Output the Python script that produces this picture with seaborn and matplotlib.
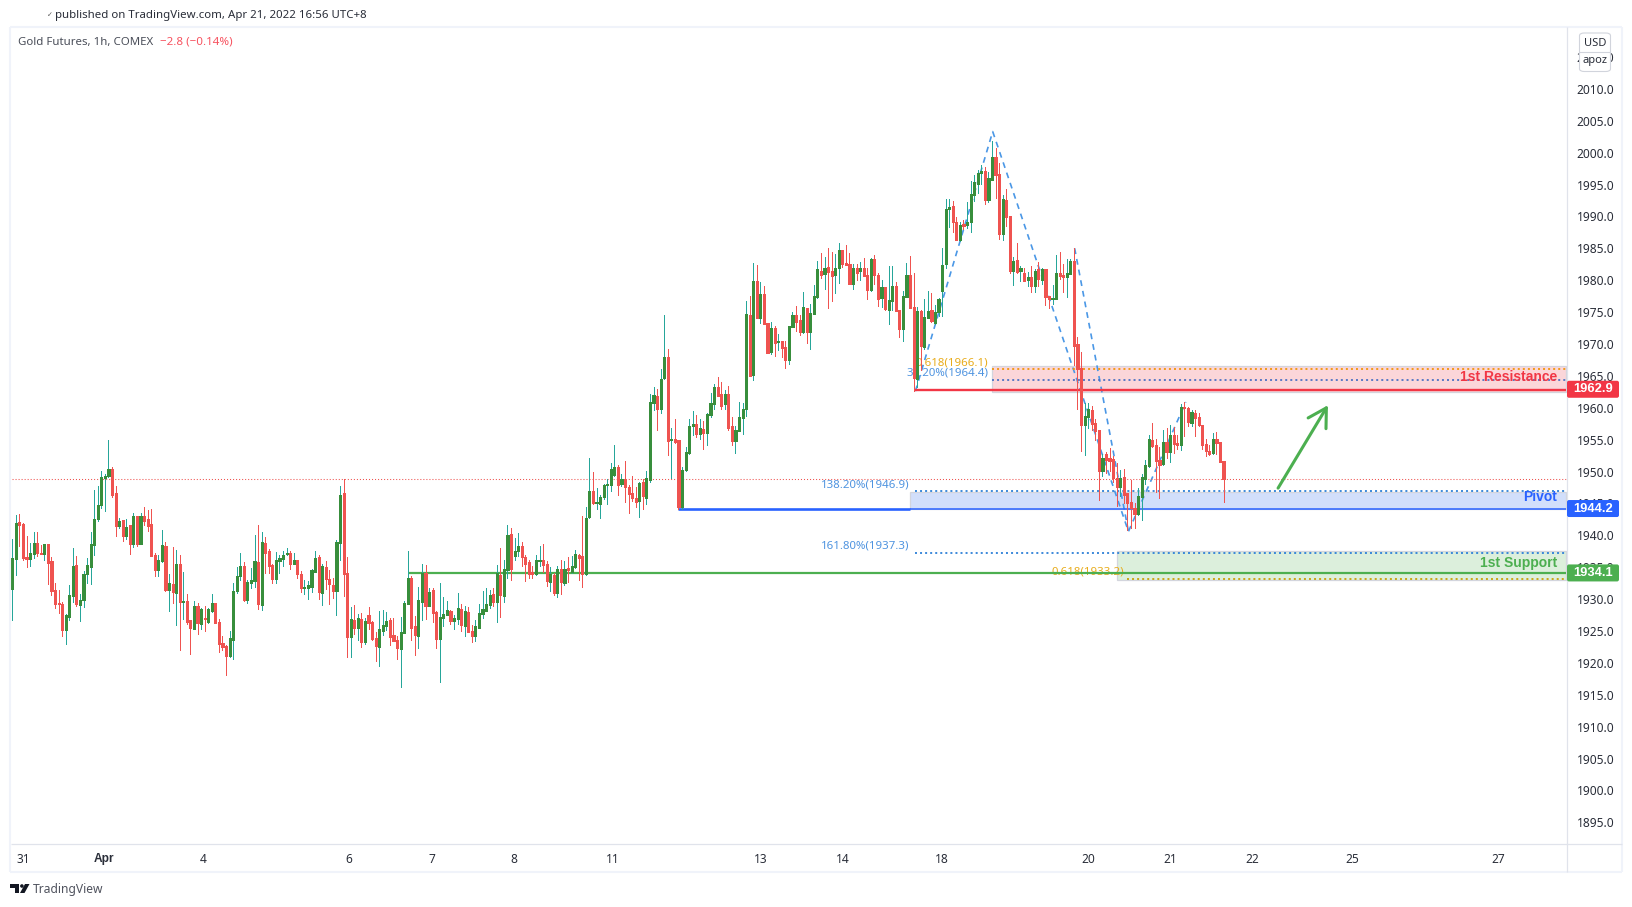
import matplotlib
matplotlib.use("Agg")
import matplotlib.pyplot as plt
from matplotlib.patches import Circle, FancyBboxPatch, Polygon, Rectangle
from matplotlib.lines import Line2D
from matplotlib.transforms import IdentityTransform
import numpy as np
import pandas as pd
import seaborn as sns

W, H = 1633, 907

opens = [
    1931.6, 1936.3, 1942.1, 1941.8, 1936.6, 1936.3, 1937.1, 1938.8, 1937.2, 1937.1,
    1938.6, 1936.0, 1931.4, 1929.4, 1929.2, 1925.1, 1927.2, 1930.5, 1935.3, 1929.0,
    1929.8, 1933.9, 1935.0, 1938.5, 1942.5, 1944.7, 1949.0, 1949.3, 1950.4, 1946.6,
    1941.4, 1942.4, 1939.9, 1941.6, 1938.6, 1943.0, 1938.6, 1943.0, 1942.5, 1941.8,
    1936.9, 1934.5, 1936.0, 1938.3, 1931.4, 1932.3, 1930.9, 1935.5, 1929.5, 1929.7,
    1926.7, 1925.3, 1928.9, 1926.1, 1927.0, 1926.4, 1928.1, 1929.4, 1926.4, 1923.1,
    1922.6, 1921.0, 1923.6, 1931.2, 1933.6, 1935.2, 1929.8, 1932.5, 1932.8, 1935.8,
    1929.0, 1938.8, 1937.5, 1935.3, 1933.1, 1936.0, 1936.3, 1937.1, 1937.2, 1935.5,
    1936.1, 1933.9, 1931.7, 1931.7, 1931.9, 1934.2, 1936.6, 1930.9, 1935.0, 1933.1,
    1932.2, 1931.2, 1938.8, 1946.6, 1934.1, 1924.0, 1926.7, 1925.4, 1926.9, 1923.2,
    1927.5, 1926.4, 1923.9, 1922.5, 1925.0, 1925.8, 1926.7, 1924.3, 1923.6, 1922.2,
    1924.7, 1929.2, 1933.3, 1925.8, 1924.2, 1929.5, 1934.1, 1928.9, 1931.4, 1928.0,
    1923.7, 1927.0, 1927.5, 1928.1, 1926.5, 1926.9, 1928.4, 1925.8, 1928.0, 1925.0,
    1924.2, 1925.4, 1927.6, 1928.1, 1929.0, 1930.8, 1929.5, 1933.8, 1930.5, 1934.5,
    1940.2, 1936.7, 1937.5, 1938.3, 1936.6, 1935.8, 1934.2, 1933.9, 1936.0, 1936.1,
    1935.5, 1932.7, 1933.8, 1930.9, 1934.7, 1932.5, 1934.9, 1934.2, 1935.0, 1936.9,
    1936.7, 1933.9, 1942.9, 1946.9, 1945.0, 1944.9, 1946.0, 1947.9, 1947.9, 1949.4,
    1950.7, 1948.0, 1948.8, 1947.6, 1946.6, 1945.8, 1945.4, 1948.3, 1945.8, 1948.7,
    1960.7, 1961.8, 1959.8, 1964.7, 1968.0, 1954.9, 1955.1, 1954.9, 1944.4, 1950.2,
    1952.9, 1957.1, 1957.4, 1955.9, 1956.6, 1956.0, 1958.9, 1960.6, 1963.2, 1962.1,
    1960.6, 1962.1, 1957.1, 1954.8, 1956.4, 1958.4, 1959.8, 1974.5, 1965.1, 1979.9,
    1974.1, 1977.8, 1973.3, 1968.7, 1972.5, 1970.3, 1970.5, 1969.5, 1967.5, 1972.7,
    1974.5, 1973.8, 1971.9, 1975.6, 1971.9, 1974.7, 1977.4, 1981.4, 1981.0, 1982.1,
    1981.4, 1980.8, 1981.9, 1984.7, 1982.7, 1982.5, 1979.4, 1981.9, 1981.4, 1981.9,
    1980.8, 1978.5, 1983.3, 1980.8, 1977.2, 1979.0, 1975.3, 1976.7, 1979.1, 1975.3,
    1972.4, 1977.4, 1980.8, 1975.8, 1964.5, 1975.2, 1969.5, 1974.1, 1975.3, 1973.3,
    1975.0, 1978.3, 1982.5, 1991.2, 1991.7, 1989.1, 1986.3, 1988.8, 1988.7, 1989.1,
    1993.4, 1995.1, 1996.8, 1997.1, 1992.6, 1995.7, 1999.3, 1996.7, 1987.3, 1992.6,
    1990.1, 1981.4, 1983.2, 1981.4, 1981.1, 1980.0, 1980.5, 1979.1, 1981.8, 1980.0,
    1981.8, 1977.5, 1977.0, 1977.0, 1981.1, 1980.8, 1980.5, 1981.0, 1983.0, 1970.0,
    1966.2, 1957.3, 1958.5, 1959.6, 1957.6, 1956.5, 1950.1, 1952.7, 1952.1, 1952.0,
    1949.0, 1947.6, 1949.1, 1946.6, 1945.2, 1944.3, 1943.3, 1946.0, 1948.8, 1950.9,
    1954.9, 1954.2, 1951.8, 1951.2, 1954.6, 1953.1, 1955.7, 1954.5, 1954.2, 1960.1,
    1960.0, 1957.6, 1959.2, 1958.5, 1957.3, 1954.3, 1953.2, 1952.9, 1955.1, 1954.6, 1951.6,
]
closes = [
    1936.4, 1941.9, 1941.6, 1936.4, 1936.3, 1937.2, 1938.8, 1937.2, 1937.1, 1938.6,
    1935.6, 1931.2, 1929.2, 1929.2, 1925.1, 1927.5, 1930.6, 1935.2, 1929.2, 1929.8,
    1933.9, 1935.3, 1938.6, 1942.5, 1944.7, 1949.1, 1949.3, 1950.4, 1946.3, 1941.4,
    1942.2, 1939.9, 1941.3, 1938.6, 1943.0, 1938.6, 1943.0, 1942.2, 1941.4, 1936.7,
    1934.5, 1936.1, 1938.5, 1931.4, 1932.5, 1931.1, 1935.5, 1929.5, 1929.7, 1926.4,
    1925.4, 1928.9, 1926.2, 1928.4, 1926.9, 1928.4, 1929.4, 1926.2, 1922.9, 1922.5,
    1921.0, 1923.9, 1931.2, 1933.6, 1935.2, 1929.8, 1932.7, 1933.0, 1936.0, 1929.2,
    1938.9, 1937.2, 1935.2, 1933.1, 1936.1, 1936.4, 1936.9, 1937.2, 1935.5, 1936.1,
    1933.9, 1931.7, 1931.9, 1932.2, 1934.5, 1936.4, 1931.1, 1935.2, 1933.1, 1932.3,
    1931.2, 1938.9, 1946.3, 1933.9, 1924.0, 1926.9, 1925.4, 1927.0, 1923.2, 1926.5,
    1926.2, 1923.7, 1922.6, 1925.3, 1925.9, 1926.5, 1924.0, 1923.4, 1922.3, 1924.8,
    1929.4, 1933.3, 1925.4, 1924.3, 1929.8, 1934.1, 1928.9, 1931.1, 1927.8, 1923.7,
    1927.2, 1927.6, 1928.3, 1926.5, 1927.0, 1928.6, 1925.9, 1928.1, 1924.8, 1924.2,
    1925.8, 1927.8, 1928.4, 1929.2, 1930.6, 1929.5, 1934.1, 1930.6, 1934.7, 1940.0,
    1934.7, 1937.5, 1938.3, 1936.6, 1935.5, 1933.9, 1933.9, 1936.1, 1936.1, 1935.3,
    1932.8, 1933.9, 1930.9, 1934.7, 1932.7, 1934.7, 1934.5, 1935.2, 1937.1, 1936.4,
    1933.9, 1942.7, 1946.9, 1945.0, 1945.2, 1946.0, 1947.9, 1948.0, 1950.4, 1950.7,
    1947.9, 1948.8, 1947.6, 1946.5, 1945.8, 1945.2, 1948.2, 1946.2, 1949.0, 1960.9,
    1962.0, 1959.8, 1964.5, 1968.0, 1954.8, 1955.1, 1954.6, 1944.4, 1950.2, 1953.0,
    1957.1, 1957.4, 1955.9, 1956.8, 1956.0, 1959.0, 1960.7, 1963.2, 1961.8, 1960.3,
    1962.1, 1956.8, 1954.8, 1956.5, 1958.5, 1959.8, 1974.7, 1965.0, 1979.9, 1974.1,
    1977.8, 1973.1, 1968.6, 1972.5, 1970.2, 1970.5, 1969.4, 1967.5, 1972.8, 1974.5,
    1973.4, 1971.9, 1975.8, 1971.9, 1974.9, 1977.5, 1981.8, 1980.8, 1981.9, 1981.3,
    1980.7, 1981.9, 1984.7, 1982.5, 1982.4, 1979.4, 1981.9, 1981.1, 1981.9, 1980.7,
    1978.5, 1983.3, 1980.8, 1977.1, 1979.0, 1975.5, 1976.9, 1979.1, 1975.2, 1972.4,
    1977.5, 1980.8, 1975.6, 1964.7, 1975.2, 1969.7, 1974.2, 1975.2, 1973.6, 1975.0,
    1977.1, 1982.4, 1991.2, 1991.5, 1989.1, 1986.3, 1988.7, 1988.5, 1989.1, 1993.5,
    1995.4, 1996.8, 1997.1, 1992.6, 1996.0, 1999.3, 1996.5, 1987.3, 1992.7, 1989.9,
    1981.4, 1983.0, 1981.3, 1981.9, 1979.9, 1980.5, 1979.1, 1981.4, 1980.2, 1981.8,
    1977.4, 1977.0, 1977.2, 1981.1, 1980.7, 1980.5, 1981.1, 1983.0, 1969.7, 1966.1,
    1957.3, 1958.7, 1959.8, 1957.4, 1956.4, 1950.1, 1952.1, 1951.8, 1951.6, 1949.0,
    1947.6, 1949.0, 1946.3, 1945.0, 1944.3, 1943.3, 1946.2, 1949.1, 1951.0, 1955.1,
    1954.0, 1951.6, 1951.0, 1954.6, 1953.1, 1955.7, 1954.3, 1954.2, 1960.1, 1960.0,
    1957.8, 1959.3, 1958.4, 1957.3, 1954.2, 1953.2, 1952.7, 1955.1, 1954.5, 1951.5, 1948.8,
]
highs = [
    1939.4, 1943.2, 1943.3, 1941.9, 1939.9, 1938.8, 1940.5, 1940.5, 1938.5, 1938.6,
    1938.6, 1936.6, 1932.5, 1931.4, 1929.6, 1927.6, 1932.2, 1938.0, 1936.7, 1930.8,
    1934.4, 1936.4, 1940.5, 1947.1, 1947.7, 1950.1, 1949.6, 1955.0, 1950.7, 1947.7,
    1942.7, 1942.4, 1942.5, 1941.6, 1943.5, 1943.0, 1943.5, 1944.4, 1944.0, 1944.1,
    1937.2, 1936.9, 1940.8, 1938.9, 1933.9, 1938.2, 1937.7, 1936.9, 1934.2, 1930.8,
    1926.7, 1929.7, 1929.4, 1928.6, 1928.9, 1928.6, 1930.8, 1929.4, 1926.9, 1924.2,
    1922.8, 1925.0, 1932.5, 1935.0, 1937.2, 1935.8, 1933.0, 1934.9, 1940.0, 1941.6,
    1940.5, 1939.7, 1937.8, 1935.5, 1937.4, 1936.9, 1937.5, 1938.0, 1937.5, 1937.2,
    1936.1, 1934.4, 1933.0, 1932.8, 1934.7, 1937.5, 1936.9, 1935.5, 1936.0, 1934.5,
    1933.3, 1939.2, 1947.7, 1948.8, 1936.6, 1928.7, 1929.0, 1927.6, 1927.8, 1927.0,
    1928.7, 1926.5, 1924.8, 1928.1, 1928.3, 1928.0, 1927.0, 1927.0, 1924.2, 1927.2,
    1929.7, 1937.5, 1933.6, 1927.3, 1931.9, 1935.5, 1935.3, 1931.7, 1931.7, 1928.1,
    1932.5, 1930.3, 1929.7, 1928.3, 1927.5, 1930.9, 1929.2, 1928.9, 1928.7, 1925.9,
    1926.7, 1929.2, 1931.2, 1931.7, 1931.4, 1931.7, 1935.3, 1938.0, 1936.1, 1941.6,
    1941.1, 1939.6, 1940.4, 1938.9, 1936.9, 1936.1, 1935.2, 1936.9, 1938.3, 1938.6,
    1936.0, 1935.0, 1934.1, 1935.2, 1936.1, 1935.9, 1936.6, 1936.7, 1937.7, 1937.1,
    1943.0, 1944.4, 1952.1, 1949.9, 1947.4, 1946.3, 1948.0, 1948.8, 1951.3, 1954.2,
    1951.0, 1949.6, 1951.6, 1947.9, 1949.3, 1947.6, 1948.3, 1948.8, 1950.1, 1962.1,
    1963.2, 1962.9, 1966.1, 1974.5, 1969.2, 1956.8, 1958.2, 1955.0, 1950.7, 1953.8,
    1958.2, 1959.5, 1958.9, 1958.2, 1957.9, 1959.2, 1962.3, 1963.7, 1964.8, 1964.0,
    1962.8, 1963.4, 1958.5, 1957.1, 1960.9, 1960.7, 1976.7, 1977.5, 1982.7, 1982.4,
    1979.7, 1979.1, 1973.3, 1973.4, 1972.8, 1971.6, 1970.5, 1970.5, 1972.8, 1975.0,
    1976.0, 1974.5, 1978.2, 1975.6, 1976.3, 1979.3, 1983.0, 1984.3, 1983.6, 1985.0,
    1984.4, 1984.1, 1985.8, 1984.7, 1985.5, 1984.3, 1982.5, 1982.5, 1982.9, 1983.5,
    1981.9, 1983.5, 1984.0, 1981.1, 1980.0, 1979.0, 1982.2, 1982.2, 1979.7, 1975.3,
    1978.3, 1982.7, 1983.8, 1981.1, 1975.8, 1975.3, 1977.1, 1978.3, 1978.0, 1976.1,
    1977.2, 1985.0, 1992.7, 1992.7, 1992.4, 1989.9, 1989.1, 1989.5, 1992.3, 1995.6,
    1996.5, 1997.3, 1998.1, 1997.8, 1996.9, 2001.8, 2000.7, 1998.4, 1993.4, 1994.3,
    1990.1, 1983.6, 1985.8, 1982.2, 1981.9, 1981.3, 1982.2, 1981.8, 1982.8, 1981.9,
    1981.8, 1977.5, 1979.2, 1983.9, 1984.4, 1982.5, 1983.3, 1983.3, 1985.0, 1971.1,
    1968.7, 1960.7, 1960.7, 1960.3, 1958.2, 1956.5, 1952.7, 1953.0, 1953.7, 1952.4,
    1951.3, 1950.2, 1950.4, 1946.6, 1948.7, 1945.0, 1947.4, 1949.6, 1951.8, 1955.7,
    1957.6, 1955.1, 1953.8, 1956.5, 1956.8, 1957.3, 1957.0, 1955.7, 1960.6, 1960.9,
    1960.1, 1959.6, 1959.6, 1959.2, 1957.3, 1955.1, 1954.2, 1956.0, 1956.2, 1954.6, 1951.7,
]
lows = [
    1926.7, 1933.8, 1938.3, 1936.1, 1935.0, 1935.2, 1936.4, 1936.7, 1937.1, 1936.1,
    1932.3, 1930.6, 1928.6, 1927.8, 1924.2, 1922.9, 1926.7, 1929.5, 1928.9, 1926.5,
    1928.7, 1932.5, 1932.3, 1936.9, 1942.2, 1944.3, 1943.8, 1949.1, 1946.0, 1939.9,
    1941.1, 1939.1, 1939.4, 1937.1, 1938.2, 1938.3, 1938.6, 1941.6, 1940.7, 1936.7,
    1933.6, 1933.6, 1935.8, 1931.2, 1928.1, 1929.4, 1925.9, 1922.0, 1926.9, 1926.1,
    1921.4, 1925.3, 1924.5, 1925.3, 1925.0, 1926.2, 1928.0, 1926.2, 1921.7, 1922.0,
    1918.1, 1920.9, 1920.6, 1930.9, 1933.0, 1929.7, 1929.4, 1931.7, 1931.9, 1928.4,
    1928.3, 1934.1, 1934.1, 1932.5, 1932.5, 1934.1, 1935.2, 1936.9, 1934.7, 1935.5,
    1933.3, 1931.1, 1930.8, 1930.0, 1931.1, 1934.2, 1930.0, 1929.0, 1931.6, 1929.2,
    1930.2, 1927.5, 1936.1, 1930.5, 1920.9, 1920.9, 1924.5, 1923.6, 1922.5, 1922.9,
    1925.3, 1923.6, 1920.3, 1919.5, 1924.3, 1925.1, 1922.8, 1923.4, 1920.6, 1916.2,
    1924.7, 1929.2, 1923.6, 1921.2, 1922.3, 1926.7, 1926.9, 1928.9, 1926.4, 1922.3,
    1917.0, 1925.8, 1927.5, 1926.1, 1925.3, 1926.1, 1925.0, 1924.2, 1924.8, 1923.2,
    1923.4, 1925.4, 1927.0, 1928.1, 1928.6, 1928.9, 1926.4, 1927.2, 1929.5, 1933.3,
    1933.0, 1936.1, 1936.7, 1935.2, 1932.8, 1933.3, 1933.3, 1933.8, 1935.2, 1934.2,
    1932.0, 1931.2, 1930.6, 1930.3, 1930.8, 1932.2, 1932.7, 1934.1, 1934.9, 1933.0,
    1931.9, 1933.8, 1942.7, 1944.9, 1944.1, 1942.7, 1945.7, 1944.9, 1946.9, 1949.3,
    1946.3, 1947.7, 1945.2, 1943.5, 1945.4, 1944.4, 1942.9, 1944.1, 1944.9, 1948.4,
    1959.6, 1956.5, 1959.2, 1964.5, 1952.6, 1949.0, 1954.4, 1944.2, 1944.2, 1950.1,
    1952.7, 1955.7, 1955.4, 1955.1, 1953.5, 1954.1, 1958.5, 1959.8, 1961.8, 1959.8,
    1959.8, 1956.5, 1954.2, 1952.9, 1956.4, 1955.9, 1958.7, 1965.0, 1964.4, 1974.1,
    1973.3, 1973.1, 1968.6, 1968.4, 1968.1, 1969.1, 1968.0, 1966.2, 1966.9, 1972.7,
    1972.0, 1971.4, 1971.7, 1970.1, 1969.2, 1974.7, 1977.2, 1980.4, 1978.6, 1975.6,
    1976.7, 1978.0, 1979.6, 1982.1, 1982.4, 1979.4, 1978.6, 1980.1, 1980.1, 1980.7,
    1977.1, 1978.3, 1979.4, 1976.0, 1975.8, 1975.3, 1973.1, 1975.3, 1975.2, 1971.1,
    1970.5, 1977.4, 1975.6, 1962.6, 1963.3, 1965.9, 1969.2, 1974.1, 1973.4, 1973.1,
    1974.4, 1974.4, 1981.9, 1988.4, 1987.6, 1986.3, 1986.1, 1988.0, 1988.2, 1987.6,
    1992.4, 1993.7, 1995.1, 1991.9, 1992.3, 1995.7, 1992.9, 1986.5, 1986.3, 1988.5,
    1981.1, 1979.2, 1981.1, 1979.9, 1979.9, 1979.1, 1978.1, 1978.1, 1979.1, 1979.4,
    1976.1, 1975.6, 1976.3, 1977.0, 1980.2, 1978.2, 1977.4, 1981.0, 1966.7, 1959.8,
    1953.2, 1952.6, 1956.8, 1956.5, 1954.9, 1945.5, 1949.3, 1949.8, 1950.1, 1948.4,
    1944.6, 1946.2, 1945.0, 1940.8, 1941.2, 1941.1, 1943.2, 1942.4, 1948.0, 1950.7,
    1953.8, 1946.8, 1945.8, 1951.0, 1952.1, 1951.5, 1952.9, 1953.5, 1953.4, 1955.6,
    1957.1, 1957.1, 1955.6, 1957.1, 1953.5, 1952.4, 1952.6, 1952.7, 1952.7, 1951.5, 1945.2,
]

# x axis, in bar numbers
date_ticks = [3, 25.7, 53.7, 94.5, 117.7, 140.7, 168.7, 210, 233, 261, 302, 325, 348, 376, 417]
date_labels = ["31", "Apr", "4", "6", "7", "8", "11", "13", "14", "18", "20", "21", "22", "25", "27"]
price_ticks = [1895 + 5 * k for k in range(25)]

last_price = 1948.8
resistance = 1962.8
pivot = 1944.2
support = 1934.1
tag_levels = [1962.9, 1944.2, 1934.1]

# zones: start bar, low, high
zone_starts = [275, 252, 310]
zone_lows = [1962.4, 1944.1, 1933.0]
zone_highs = [1966.5, 1946.8, 1937.5]

# zigzag pattern
zigzag_bars = [253.5, 275.2, 313.3, 329.4]
zigzag_prices = [1962.6, 2003.3, 1940.6, 1960.9]
second_leg_bars = [298.2, 313.3]
second_leg_prices = [1985.0, 1940.6]

arrow_bars = [355.3, 369.3]
arrow_prices = [1947.4, 1960.4]

BLUE_TXT = "#4f94e0"
GOLD_TXT = "#e8ac1c"
RED = "#f23645"
BLUE = "#2962ff"
GREEN = "#4caf50"
BODY_UP = "#388e3c"
BODY_DOWN = "#ef5350"
WICK_UP = "#26a69a"
X_END = 436
DOTS = (0, (1.1, 1.7))


def fx(px):
    return px / W


def fy(py):
    return 1 - py / H


def frame_line(fig, x0, y0, x1, y1, color, lw, zorder=2):
    fig.add_artist(Line2D([fx(x0), fx(x1)], [fy(y0), fy(y1)], color=color, lw=lw,
                          transform=fig.transFigure, zorder=zorder, solid_capstyle="butt"))


def price_tag(fig, ax, level, color):
    y = ax.transData.transform((0, level))[1]
    fig.add_artist(FancyBboxPatch((1568.5, y - 7), 49, 14, boxstyle="round,pad=1.5,rounding_size=2",
                                  fc=color, ec="none", transform=IdentityTransform(), zorder=4))
    fig.text(fx(1593), y / H, f"{level:.1f}", color="white", fontsize=9.3, fontweight="bold",
             family="Liberation Sans", ha="center", va="center", zorder=5)


sns.set_theme(style="white")
plt.rcParams["font.family"] = ["Noto Sans", "DejaVu Sans"]

df = pd.DataFrame({"bar": np.arange(len(opens)), "open": opens, "close": closes, "high": highs, "low": lows})
df["body"] = (df["close"] - df["open"]).abs()
df["base"] = df[["open", "close"]].min(axis=1)
up = df[df["close"] >= df["open"]]
down = df[df["close"] < df["open"]]

fig = plt.figure(figsize=(W / 100, H / 100), dpi=100, facecolor="white")
ax = fig.add_axes([fx(10.5), fy(844), fx(1567 - 10.5), (844 - 27) / H])
ax.set_facecolor("white")

# candles
ax.vlines(up["bar"], up["low"], up["high"], color=WICK_UP, lw=0.72, zorder=3, antialiased=False)
ax.vlines(down["bar"], down["low"], down["high"], color=BODY_DOWN, lw=0.72, zorder=3, antialiased=False)
for part, col in [(up, BODY_UP), (down, BODY_DOWN)]:
    sns.barplot(data=part, x="bar", y="body", bottom=part["base"].to_numpy(), native_scale=True,
                color=col, saturation=1, errorbar=None, width=0.6, linewidth=0.72, edgecolor=col,
                antialiased=False, zorder=4, ax=ax)

# zones
zone_faces = ["#fbd6d9", "#d2dffb", "#dcefdc"]
for start, lo, hi, face in zip(zone_starts, zone_lows, zone_highs, zone_faces):
    ax.add_patch(Rectangle((start, lo), X_END - start, hi - lo, fc=face, ec="#d3d5dd", lw=0.9, zorder=1))

# zigzag
zig = pd.DataFrame({"bar": zigzag_bars, "price": zigzag_prices})
leg = pd.DataFrame({"bar": second_leg_bars, "price": second_leg_prices})
for part in (zig, leg):
    sns.lineplot(data=part, x="bar", y="price", sort=False, estimator=None, color="#4a97e6",
                 lw=1.2, ls=(0, (3.5, 3)), zorder=2, ax=ax)

# levels
ax.hlines(last_price, -1, X_END, color=BODY_DOWN, lw=0.75, ls=(0, (1, 1.9)), zorder=2)
ax.hlines(resistance, 253.5, X_END, color=RED, lw=1.7, zorder=2)
ax.hlines(pivot, 187, 252, color=BLUE, lw=1.9, zorder=2)
ax.hlines(pivot, 252, X_END, color=BLUE, lw=1.1, zorder=2)
ax.hlines(support, 111, X_END, color=GREEN, lw=1.6, zorder=2)

# fib dotted lines
ax.hlines(1966.1, 275, X_END, color="#f0960e", lw=1.3, ls=DOTS, zorder=2)
ax.hlines(1964.4, 275, X_END, color="#4d72c4", lw=1.3, ls=DOTS, zorder=2)
ax.hlines(1946.9, 253.5, X_END, color="#2d80d8", lw=1.3, ls=DOTS, zorder=2)
ax.hlines(1937.3, 253.5, X_END, color="#2d80d8", lw=1.3, ls=DOTS, zorder=2)
ax.hlines(1933.2, 313, X_END, color="#c9a008", lw=1.3, ls=DOTS, zorder=2)

# fib labels, the candles cover them
ax.text(273.9, 1967.0, "0.618(1966.1)", color=GOLD_TXT, fontsize=8.25, ha="right", va="center", zorder=1.5)
ax.text(273.9, 1965.4, "38.20%(1964.4)", color=BLUE_TXT, fontsize=8.25, ha="right", va="center", zorder=1.5)
ax.text(251.8, 1947.9, "138.20%(1946.9)", color=BLUE_TXT, fontsize=8.25, ha="right", va="center", zorder=1.5)
ax.text(251.8, 1938.3, "161.80%(1937.3)", color=BLUE_TXT, fontsize=8.25, ha="right", va="center", zorder=1.5)
ax.text(312, 1934.2, "0.618(1933.2)", color=GOLD_TXT, fontsize=8.25, ha="right", va="center", zorder=1.5)

for price, name, col in [(1964.8, "1st Resistance", RED), (1946.0, "Pivot", BLUE), (1935.7, "1st Support", GREEN)]:
    ax.text(433.7, price, name, color=col, fontsize=10, fontweight="bold", family="Liberation Sans",
            ha="right", va="center", zorder=5)

ax.annotate("", xy=(arrow_bars[1], arrow_prices[1]), xytext=(arrow_bars[0], arrow_prices[0]),
            arrowprops=dict(arrowstyle="->,head_length=1.3,head_width=0.75", mutation_scale=10,
                            lw=2.2, color=GREEN, shrinkA=0, shrinkB=0), zorder=5)

# axes
ax.set_xlim(-0.5, 436.4)
ax.set_ylim(1891.6, 2019.7)
ax.set_xlabel("")
ax.set_ylabel("")
ax.set_xticks(date_ticks)
ax.set_xticklabels(date_labels)
ax.yaxis.tick_right()
ax.set_yticks(price_ticks)
ax.set_yticklabels([f"{p:.1f}" for p in price_ticks])
ax.tick_params(axis="y", length=0, pad=6.8, labelsize=8.6, labelcolor="#2a2e39")
ax.tick_params(axis="x", length=0, pad=6.5, labelsize=8.6, labelcolor="#2a2e39")
ax.get_xticklabels()[1].set_fontweight("bold")
ax.get_xticklabels()[1].set_family("Liberation Sans")
for side in ax.spines:
    ax.spines[side].set_visible(False)

# chart frame
frame_line(fig, 10, 27, 1622, 27, "#f0f3fa", 1.5)
frame_line(fig, 10, 871.5, 1622, 871.5, "#f0f3fa", 1.5)
frame_line(fig, 10, 27, 10, 871.5, "#f0f3fa", 1.5)
frame_line(fig, 1622, 27, 1622, 871.5, "#f0f3fa", 1.5)
frame_line(fig, 10.5, 844, 1622, 844, "#e0e3eb", 0.9)
frame_line(fig, 1567.5, 27, 1567.5, 871.5, "#e0e3eb", 0.9)

for level, col in zip(tag_levels, [RED, BLUE, GREEN]):
    price_tag(fig, ax, level, col)

# USD box
fig.add_artist(FancyBboxPatch((fx(1579.5), fy(71.5)), fx(31), 38.5 / H,
                              boxstyle="round,pad=0,rounding_size=0.003", fc="white", ec="#d1d4dc", lw=0.8,
                              transform=fig.transFigure, zorder=4))
frame_line(fig, 1579.5, 52.3, 1610.5, 52.3, "#d1d4dc", 0.8, zorder=5)
fig.text(fx(1595), fy(43.5), "USD", color="#2a2e39", fontsize=8, ha="center", va="center", zorder=6)
fig.text(fx(1595), fy(60.5), "apoz", color="#2a2e39", fontsize=8, ha="center", va="center", zorder=6)

# header and legend
fig.text(fx(46.5), fy(16), "✓", color="#555555", fontsize=5, ha="left", va="center")
fig.text(fx(55.5), fy(15.5), "published on TradingView.com, Apr 21, 2022 16:56 UTC+8", color="#2a2e39",
         fontsize=8.25, ha="left", va="center")
fig.text(fx(18), fy(42.5), "Gold Futures, 1h, COMEX", color="#4a4e59", fontsize=8.25, ha="left", va="center")
fig.text(fx(160), fy(42.5), "−2.8 (−0.14%)", color="#f7525f", fontsize=8.3, ha="left", va="center")

# footer logo
fig.add_artist(Polygon([(fx(10), fy(884)), (fx(19.5), fy(884)), (fx(19.5), fy(893)), (fx(15), fy(893)),
                        (fx(15), fy(888)), (fx(10), fy(888))], closed=True, fc="#131722", ec="none",
                       transform=fig.transFigure))
fig.add_artist(Polygon([(fx(25), fy(884)), (fx(29.5), fy(884)), (fx(24.5), fy(893)), (fx(20), fy(893))],
                       closed=True, fc="#131722", ec="none", transform=fig.transFigure))
fig.add_artist(Circle((21.9, H - 886), 1.8, fc="#131722", ec="none", transform=IdentityTransform()))
fig.text(fx(33), fy(889), "TradingView", color="#50535e", fontsize=8.7, ha="left", va="center")

fig.savefig("out.png", dpi=100)
